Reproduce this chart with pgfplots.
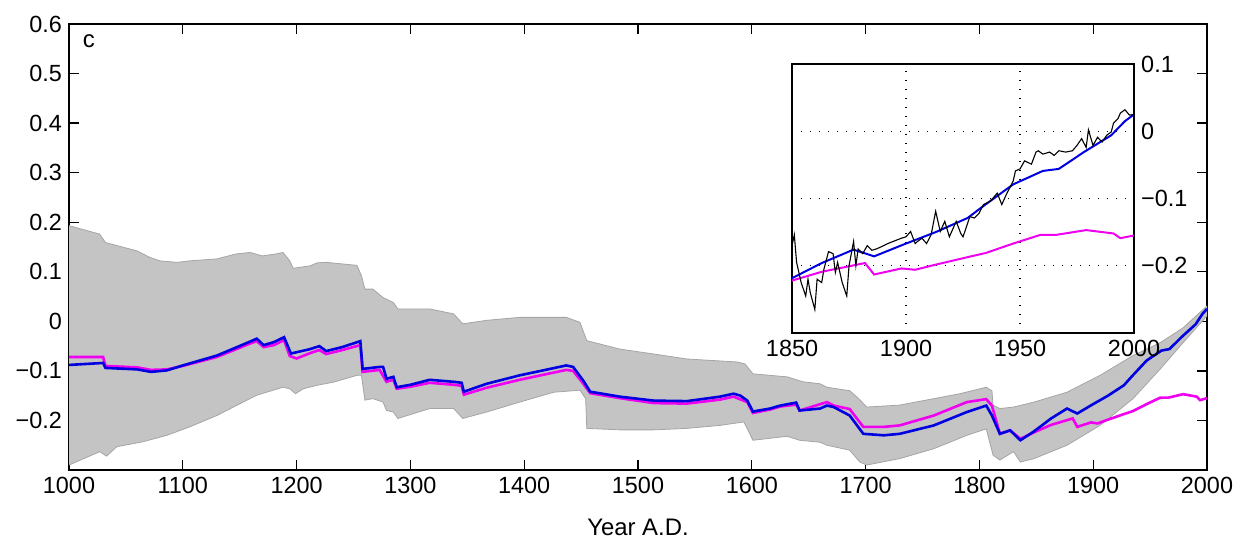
\documentclass[border=0pt]{standalone}
\usepackage{fontspec}
\setmainfont{Liberation Sans}
\usepackage{pgfplots}
\pgfplotsset{compat=1.18}
\usepackage{pgfplotstable}
\usepgfplotslibrary{fillbetween}

\definecolor{bandfill}{RGB}{196,196,196}
\definecolor{bandedge}{RGB}{165,165,165}
\definecolor{recblue}{RGB}{0,0,225}
\definecolor{recmag}{RGB}{240,0,240}

% envelope of the reconstructions
\pgfplotstableread{
year v
1000 0.193
1027 0.176
1032 0.159
1060 0.142
1071 0.129
1080 0.122
1095 0.119
1106 0.122
1130 0.126
1147 0.136
1159 0.139
1170 0.132
1182 0.136
1188 0.139
1194 0.122
1197 0.107
1212 0.112
1218 0.118
1226 0.119
1253 0.113
1257 0.092
1260 0.065
1267 0.065
1276 0.048
1285 0.038
1289 0.025
1317 0.025
1338 0.015
1346 -0.005
1367 0.002
1396 0.008
1437 0.008
1449 -0.002
1455 -0.039
1484 -0.056
1514 -0.066
1543 -0.076
1587 -0.082
1594 -0.086
1601 -0.106
1631 -0.112
1645 -0.122
1660 -0.126
1666 -0.133
1686 -0.140
1694 -0.156
1701 -0.173
1730 -0.169
1760 -0.156
1783 -0.146
1806 -0.133
1811 -0.140
1812 -0.169
1818 -0.176
1830 -0.173
1848 -0.163
1877 -0.143
1906 -0.109
1935 -0.069
1959 -0.043
1979 -0.013
2000 0.031
}\upperband

\pgfplotstableread{
year v
1000 -0.290
1027 -0.263
1033 -0.272
1042 -0.253
1065 -0.243
1086 -0.230
1106 -0.213
1130 -0.190
1147 -0.170
1165 -0.149
1188 -0.133
1194 -0.136
1199 -0.146
1206 -0.136
1218 -0.129
1232 -0.123
1253 -0.109
1257 -0.109
1260 -0.159
1267 -0.156
1276 -0.163
1279 -0.180
1285 -0.183
1289 -0.196
1317 -0.176
1338 -0.176
1346 -0.196
1367 -0.183
1396 -0.163
1426 -0.143
1449 -0.139
1454 -0.156
1455 -0.216
1484 -0.219
1514 -0.219
1543 -0.216
1572 -0.210
1593 -0.203
1601 -0.240
1631 -0.232
1642 -0.240
1660 -0.244
1666 -0.250
1686 -0.260
1695 -0.284
1701 -0.290
1730 -0.277
1760 -0.257
1789 -0.230
1806 -0.217
1812 -0.270
1818 -0.280
1830 -0.263
1836 -0.284
1848 -0.277
1877 -0.250
1906 -0.210
1935 -0.156
1959 -0.096
1979 -0.043
2000 0.011
}\lowerband

\pgfplotstableread{
year v
1000 -0.088
1030 -0.084
1032 -0.094
1060 -0.097
1072 -0.102
1086 -0.099
1100 -0.089
1130 -0.069
1160 -0.040
1165 -0.035
1171 -0.048
1180 -0.042
1189 -0.032
1195 -0.065
1212 -0.056
1220 -0.050
1226 -0.060
1240 -0.052
1256 -0.040
1258 -0.096
1273 -0.092
1276 -0.092
1279 -0.116
1285 -0.112
1288 -0.133
1300 -0.128
1317 -0.118
1338 -0.122
1345 -0.124
1347 -0.142
1367 -0.126
1396 -0.109
1437 -0.089
1443 -0.092
1452 -0.120
1458 -0.142
1484 -0.152
1514 -0.160
1543 -0.161
1572 -0.152
1584 -0.146
1590 -0.150
1596 -0.160
1601 -0.182
1616 -0.176
1625 -0.170
1639 -0.164
1642 -0.180
1660 -0.176
1666 -0.170
1672 -0.173
1686 -0.190
1698 -0.227
1716 -0.230
1730 -0.227
1760 -0.210
1789 -0.183
1806 -0.170
1811 -0.190
1818 -0.227
1827 -0.220
1836 -0.240
1848 -0.222
1863 -0.196
1877 -0.176
1886 -0.186
1900 -0.167
1913 -0.150
1927 -0.129
1934 -0.111
1947 -0.079
1960 -0.059
1967 -0.056
1978 -0.031
1990 -0.006
1996 0.015
2000 0.025
}\blueline

\pgfplotstableread{
year v
1000 -0.072
1030 -0.072
1032 -0.090
1060 -0.093
1072 -0.098
1086 -0.097
1100 -0.090
1130 -0.072
1159 -0.045
1165 -0.040
1171 -0.052
1180 -0.048
1189 -0.038
1194 -0.070
1200 -0.075
1212 -0.064
1220 -0.058
1226 -0.066
1240 -0.058
1256 -0.048
1258 -0.102
1273 -0.098
1279 -0.122
1285 -0.118
1288 -0.136
1300 -0.132
1317 -0.124
1338 -0.128
1345 -0.130
1347 -0.148
1367 -0.134
1396 -0.118
1437 -0.098
1443 -0.100
1452 -0.126
1458 -0.145
1484 -0.155
1514 -0.165
1543 -0.166
1572 -0.158
1584 -0.152
1596 -0.163
1601 -0.185
1616 -0.178
1625 -0.172
1639 -0.168
1642 -0.180
1666 -0.163
1672 -0.170
1686 -0.177
1698 -0.213
1716 -0.213
1730 -0.210
1760 -0.190
1789 -0.163
1806 -0.157
1811 -0.170
1818 -0.227
1827 -0.220
1836 -0.237
1850 -0.222
1863 -0.209
1882 -0.196
1886 -0.213
1898 -0.204
1904 -0.206
1911 -0.200
1926 -0.188
1935 -0.181
1947 -0.167
1959 -0.154
1966 -0.154
1979 -0.147
1991 -0.152
1994 -0.159
2000 -0.155
}\magline

% instrumental record for the inset
\pgfplotstableread{
year v
1850 -0.170
1851 -0.154
1852 -0.195
1854 -0.225
1856 -0.245
1857 -0.220
1858 -0.240
1860 -0.265
1861 -0.220
1863 -0.225
1864 -0.205
1866 -0.179
1868 -0.182
1869 -0.210
1870 -0.195
1872 -0.225
1874 -0.245
1875 -0.200
1877 -0.164
1878 -0.200
1879 -0.175
1881 -0.182
1883 -0.170
1885 -0.177
1887 -0.175
1889 -0.172
1892 -0.167
1895 -0.163
1898 -0.159
1900 -0.157
1902 -0.149
1904 -0.167
1905 -0.164
1907 -0.159
1909 -0.167
1911 -0.154
1913 -0.119
1915 -0.149
1917 -0.134
1919 -0.157
1922 -0.134
1924 -0.152
1925 -0.157
1928 -0.127
1930 -0.129
1932 -0.122
1934 -0.109
1937 -0.104
1940 -0.092
1942 -0.109
1944 -0.094
1947 -0.074
1948 -0.059
1950 -0.056
1952 -0.044
1955 -0.049
1957 -0.031
1958 -0.029
1960 -0.034
1963 -0.031
1965 -0.036
1967 -0.029
1970 -0.031
1973 -0.029
1975 -0.021
1977 -0.011
1979 -0.024
1980 0.002
1982 -0.021
1984 -0.009
1986 -0.016
1988 -0.006
1990 -0.001
1991 0.012
1993 0.019
1994 0.027
1996 0.032
1998 0.024
2000 0.025
}\instr

\begin{document}
\begin{tikzpicture}
\pgfplotsset{every tick label/.append style={font=\fontsize{23.5}{28}\selectfont}}
\begin{axis}[
  at={(0,0)}, anchor=south west,
  scale only axis, width=1138bp, height=446bp,
  xmin=1000, xmax=2000, ymin=-0.3, ymax=0.6,
  xtick={1000,1100,1200,1300,1400,1500,1600,1700,1800,1900,2000},
  xticklabels={1000,1100,1200,1300,1400,1500,1600,1700,1800,1900,2000},
  ytick={-0.2,-0.1,0,0.1,0.2,0.3,0.4,0.5,0.6},
  yticklabels={−0.2,−0.1,0,0.1,0.2,0.3,0.4,0.5,0.6},
  yticklabel style={inner xsep=2bp, xshift=-5bp},
  xticklabel style={yshift=-4bp},
  tick align=inside, major tick length=10bp,
  axis line style={line width=1.3bp},
  every tick/.style={black, line width=1.3bp},
  xlabel={Year A.D.},
  xlabel style={font=\fontsize{24}{28}\selectfont, at={(axis description cs:0.5,0)}, anchor=base, yshift=-65bp},
]
\addplot[draw=none, name path=up] table[x=year,y=v] {\upperband};
\addplot[draw=none, name path=lo] table[x=year,y=v] {\lowerband};
\addplot[fill=bandfill, draw=none] fill between[of=up and lo];
\addplot[bandedge, line width=0.8bp] table[x=year,y=v] {\upperband};
\addplot[bandedge, line width=0.8bp] table[x=year,y=v] {\lowerband};
\addplot[recmag, line width=2.6bp] table[x=year,y=v] {\magline};
\addplot[recblue, line width=2.6bp] table[x=year,y=v] {\blueline};
\node[anchor=base west, font=\fontsize{24}{28}\selectfont] at (axis cs:1009,0.552) {c};
\end{axis}

\begin{axis}[
  at={(723bp,137bp)}, anchor=south west,
  scale only axis, width=342bp, height=269bp,
  axis background/.style={fill=white},
  xmin=1850, xmax=2000, ymin=-0.3, ymax=0.1,
  xtick={1850,1900,1950,2000},
  xticklabels={1850,1900,1950,2000},
  ytick={-0.2,-0.1,0,0.1},
  yticklabels={−0.2,−0.1,0,0.1},
  yticklabel pos=right,
  yticklabel style={inner xsep=2bp, xshift=5bp},
  xticklabel style={yshift=-4bp},
  major tick length=0pt,
  axis line style={line width=1.3bp},
  grid=major,
  major grid style={black, line width=1.2bp, dash pattern=on 1.2bp off 7.8bp},
]
\addplot[recmag, line width=2bp] table[x=year,y=v] {\magline};
\addplot[recblue, line width=2bp] table[x=year,y=v] {\blueline};
\addplot[black, line width=1.1bp] table[x=year,y=v] {\instr};
\end{axis}

\pgfresetboundingbox
\path[use as bounding box] (-69bp,-68bp) rectangle (1168bp,470bp);
\end{tikzpicture}
\end{document}
